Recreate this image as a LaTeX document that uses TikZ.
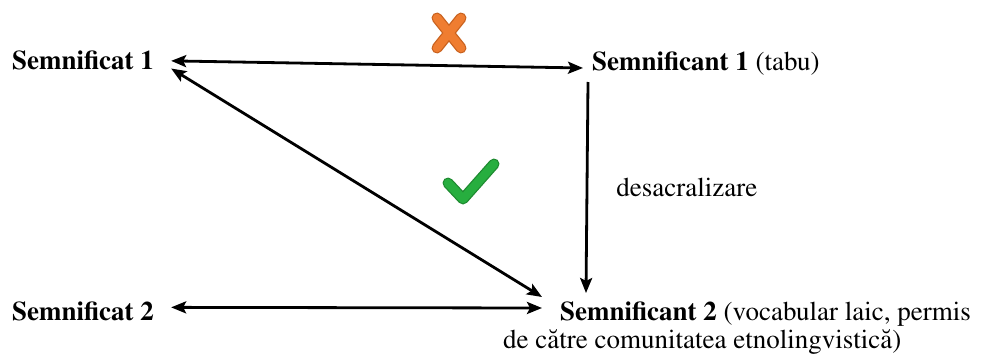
\documentclass[tikz,border=0pt]{standalone}
\usepackage[T1]{fontenc}
\usepackage{times}
\usepackage{xcolor}
\usepackage{tikz}
\usetikzlibrary{arrows.meta, positioning, calc}
\definecolor{crossorange}{HTML}{EF7D31}
\definecolor{crossedge}{HTML}{C9621F}
\definecolor{checkgreen}{HTML}{27AE3F}
\definecolor{checkedge}{HTML}{1E8A30}

\begin{document}
\begin{tikzpicture}[x=1pt, y=-1pt,
    term/.style={inner sep=0pt, font=\fontsize{27}{28}\selectfont, anchor=base west},
    note/.style={inner sep=0pt, font=\fontsize{27}{28}\selectfont},
    link/.style={line width=2.8pt, -{Stealth[length=15pt, width=12pt, inset=3pt]}},
    twolink/.style={line width=2.8pt, {Stealth[length=15pt, width=12pt, inset=3pt]}-{Stealth[length=15pt, width=12pt, inset=3pt]}}]
    \useasboundingbox (0,0) rectangle (982,356);

    % Terms
    \node[term] (sat1) at (12,69) {\textbf{Semnificat 1}};
    \node[term] (sat2) at (12,320) {\textbf{Semnificat 2}};
    \node[term] (snt1) at (592,70) {\textbf{Semnificant 1} (tabu)};
    \node[term, align=left] (snt2) at (503,348)
        {\hspace*{57pt}\textbf{Semnificant 2} (vocabular laic, permis\\de c\u{a}tre comunitatea etnolingvistic\u{a})};

    % Links
    \draw[twolink] ([shift={(17pt,-1pt)}]sat1.east) -- ([shift={(-9pt,2pt)}]snt1.base west);
    \draw[twolink] ([shift={(17pt,1pt)}]sat1.south east) -- ([shift={(39pt,51pt)}]snt2.base west);
    \draw[twolink] ([shift={(17pt,3.5pt)}]sat2.east) -- ([shift={(39pt,40pt)}]snt2.base west);
    \draw[link] ([shift={(-4pt,-12pt)}]snt1.base west) -- ([shift={(83pt,55pt)}]snt2.base west)
        node[note, midway, right=28pt] {desacralizare};

    % Marks
    \draw[crossedge, line width=11pt, line cap=round] (437,18) -- (461,48) (461,18) -- (437,48);
    \draw[crossorange, line width=8.5pt, line cap=round] (437,18) -- (461,48) (461,18) -- (437,48);
    \draw[checkedge, line width=11pt, line cap=round, line join=round] (448,183) -- (463,199) -- (494,164);
    \draw[checkgreen, line width=8.5pt, line cap=round, line join=round] (448,183) -- (463,199) -- (494,164);
\end{tikzpicture}
\end{document}
